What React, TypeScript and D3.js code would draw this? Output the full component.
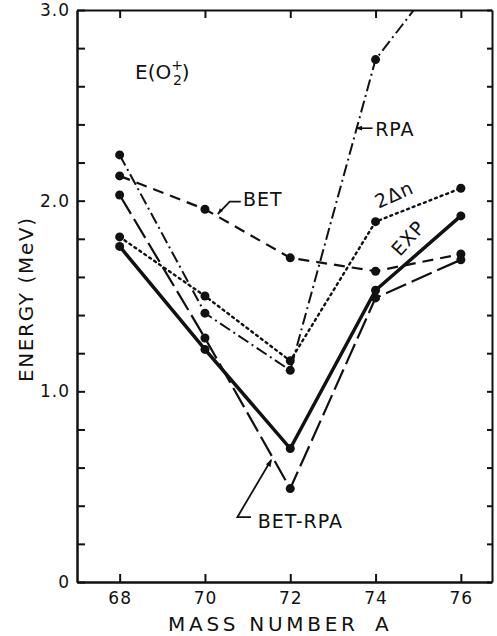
import React, { useEffect, useRef } from "react";
import * as d3 from "d3";

// mass numbers on the x axis
const massNumbers = [68, 70, 72, 74, 76];
// energies of the first excited 0+ state (MeV)
const expValues = [1.76, 1.22, 0.7, 1.53, 1.92];
const betRpaValues = [2.03, 1.28, 0.49, 1.49, 1.69];
const betValues = [2.13, 1.955, 1.7, 1.63, 1.72];
const rpaValues = [2.24, 1.41, 1.11, 2.74, 3.32];
const twoDeltaNValues = [1.81, 1.5, 1.16, 1.89, 2.065];
const yTickValues = [0, 1, 2, 3];
const yTickLabels = ["0", "1.0", "2.0", "3.0"];

const W = 497, H = 636;
const FONT = "DejaVu Sans, sans-serif";

function EnergyChart() {
  const ref = useRef<SVGSVGElement>(null);

  useEffect(() => {
    const svg = d3.select(ref.current);
    svg.selectAll("*").remove();

    const x = d3.scaleLinear().domain([67, 76.73]).range([77, 492]);
    const y = d3.scaleLinear().domain([0, 3]).range([582, 10]);
    const minorY = d3.range(0, 3.001, 0.2);

    // clip so the RPA curve leaves through the top frame
    svg.append("defs").append("clipPath").attr("id", "plotclip")
      .append("rect").attr("x", x(67)).attr("y", y(3))
      .attr("width", x(76.73) - x(67)).attr("height", y(0) - y(3));

    const styleAxis = (g, w) => {
      g.select(".domain").attr("stroke", "#111").attr("stroke-width", w);
      g.selectAll(".tick line").attr("stroke", "#111").attr("stroke-width", 2);
      g.selectAll("text").attr("font-family", FONT).attr("fill", "#111");
    };

    // left axis, ticks pointing into the plot
    svg.append("g").attr("transform", `translate(${x(67)},0)`)
      .call(d3.axisLeft(y).tickValues(minorY).tickSizeInner(-8).tickSizeOuter(0).tickPadding(7)
        .tickFormat(d => {
          const i = yTickValues.findIndex(v => Math.abs(v - d) < 1e-6);
          return i >= 0 ? yTickLabels[i] : "";
        }))
      .call(g => styleAxis(g, 2.5))
      .call(g => g.selectAll("text").attr("font-size", 17).attr("letter-spacing", 1));

    // right axis, short ticks only
    svg.append("g").attr("transform", `translate(${x(76.73)},0)`)
      .call(d3.axisRight(y).tickValues(minorY).tickSizeInner(-5).tickSizeOuter(0).tickFormat(() => ""))
      .call(g => styleAxis(g, 2));

    // bottom axis
    svg.append("g").attr("transform", `translate(0,${y(0)})`)
      .call(d3.axisBottom(x).tickValues(massNumbers).tickSizeInner(-8).tickSizeOuter(0).tickPadding(10)
        .tickFormat(d3.format("d")))
      .call(g => styleAxis(g, 2.5))
      .call(g => g.selectAll("text").attr("font-size", 17).attr("letter-spacing", 1));

    // top axis
    svg.append("g").attr("transform", `translate(0,${y(3)})`)
      .call(d3.axisTop(x).tickValues(massNumbers).tickSizeInner(-8).tickSizeOuter(0).tickFormat(() => ""))
      .call(g => styleAxis(g, 2));

    // axis titles
    svg.append("text").attr("x", 168).attr("y", 631)
      .attr("font-family", FONT).attr("font-size", 20).attr("fill", "#111")
      .attr("textLength", 187).attr("lengthAdjust", "spacing").text("MASS NUMBER");
    svg.append("text").attr("x", 375).attr("y", 631)
      .attr("font-family", FONT).attr("font-size", 20).attr("fill", "#111").text("A");
    svg.append("text").attr("transform", "translate(33,300) rotate(-90)")
      .attr("text-anchor", "middle").attr("font-family", FONT).attr("font-size", 20).attr("fill", "#111")
      .attr("textLength", 164).attr("lengthAdjust", "spacing").text("ENERGY (MeV)");

    const series = [
      { name: "RPA", values: rpaValues, dash: "12,4,2,4", width: 2 },
      { name: "BET", values: betValues, dash: "11,7", width: 2.2 },
      { name: "2Δn", values: twoDeltaNValues, dash: "2,4", width: 2.4 },
      { name: "BET-RPA", values: betRpaValues, dash: "22,6", width: 2.2 },
      { name: "EXP", values: expValues, dash: null, width: 3.5 },
    ];

    const line = d3.line<[number, number]>().x(d => x(d[0])).y(d => y(d[1]));
    const plot = svg.append("g").attr("clip-path", "url(#plotclip)");

    series.forEach(s => {
      const pts: [number, number][] = massNumbers.map((m, i) => [m, s.values[i]]);
      plot.append("path").datum(pts).attr("d", line)
        .attr("fill", "none").attr("stroke", "#111").attr("stroke-width", s.width)
        .attr("stroke-linecap", s.name === "2Δn" ? "round" : "butt")
        .attr("stroke-dasharray", s.dash);
      plot.selectAll(null).data(pts.filter(p => p[1] <= 3)).join("circle")
        .attr("cx", d => x(d[0])).attr("cy", d => y(d[1])).attr("r", 4.5).attr("fill", "#111");
    });

    // labels and leaders
    const lbl = (a, e, txt, size = 19) =>
      svg.append("text").attr("x", x(a)).attr("y", y(e)).attr("font-family", FONT)
        .attr("font-size", size).attr("fill", "#111").attr("letter-spacing", 1).text(txt);

    const ttl = svg.append("text").attr("x", x(68.36)).attr("y", y(2.64))
      .attr("font-family", FONT).attr("font-size", 20).attr("fill", "#111");
    ttl.append("tspan").text("E(O");
    ttl.append("tspan").attr("font-size", 14).attr("dy", -9).attr("dx", 0).text("+");
    ttl.append("tspan").attr("font-size", 14).attr("dy", 15).attr("dx", -10).text("2");
    ttl.append("tspan").attr("dy", -6).text(")");

    const leader = (pts, w = 1.8) =>
      svg.append("path").attr("d", d3.line()(pts.map(p => [x(p[0]), y(p[1])])))
        .attr("fill", "none").attr("stroke", "#111").attr("stroke-width", w);
    const head = (tip, from, size = 7) => {
      const [tx, ty] = [x(tip[0]), y(tip[1])];
      const [fx, fy] = [x(from[0]), y(from[1])];
      const ang = Math.atan2(ty - fy, tx - fx);
      const p1 = [tx - size * Math.cos(ang - 0.35), ty - size * Math.sin(ang - 0.35)];
      const p2 = [tx - size * Math.cos(ang + 0.35), ty - size * Math.sin(ang + 0.35)];
      svg.append("path").attr("d", `M${tx},${ty}L${p1[0]},${p1[1]}L${p2[0]},${p2[1]}Z`).attr("fill", "#111");
    };

    lbl(70.89, 1.97, "BET");
    leader([[70.84, 1.995], [70.58, 1.995], [70.3, 1.93]]);
    head([70.3, 1.93], [70.45, 1.97], 6);

    lbl(73.99, 2.34, "RPA");
    leader([[73.93, 2.38], [73.56, 2.38]], 1.6);
    head([73.53, 2.38], [73.8, 2.38], 7);

    lbl(71.24, 0.285, "BET-RPA");
    leader([[71.08, 0.34], [70.76, 0.34], [71.55, 0.64]]);
    head([71.57, 0.645], [71.2, 0.5], 8);

    svg.append("text").attr("transform", `translate(${x(74.5)},${y(2.0)}) rotate(-24)`)
      .attr("text-anchor", "middle").attr("font-family", FONT).attr("font-size", 19)
      .attr("fill", "#111").attr("letter-spacing", 1).text("2Δn");
    svg.append("text").attr("transform", `translate(${x(74.88)},${y(1.78)}) rotate(-48)`)
      .attr("text-anchor", "middle").attr("font-family", FONT).attr("font-size", 19)
      .attr("fill", "#111").attr("letter-spacing", 1).text("EXP");
  }, []);

  return <svg ref={ref} width={W} height={H} style={{ position: "absolute", left: 0, top: 0, background: "#fff" }} />;
}

export default function App() {
  return <EnergyChart />;
}
